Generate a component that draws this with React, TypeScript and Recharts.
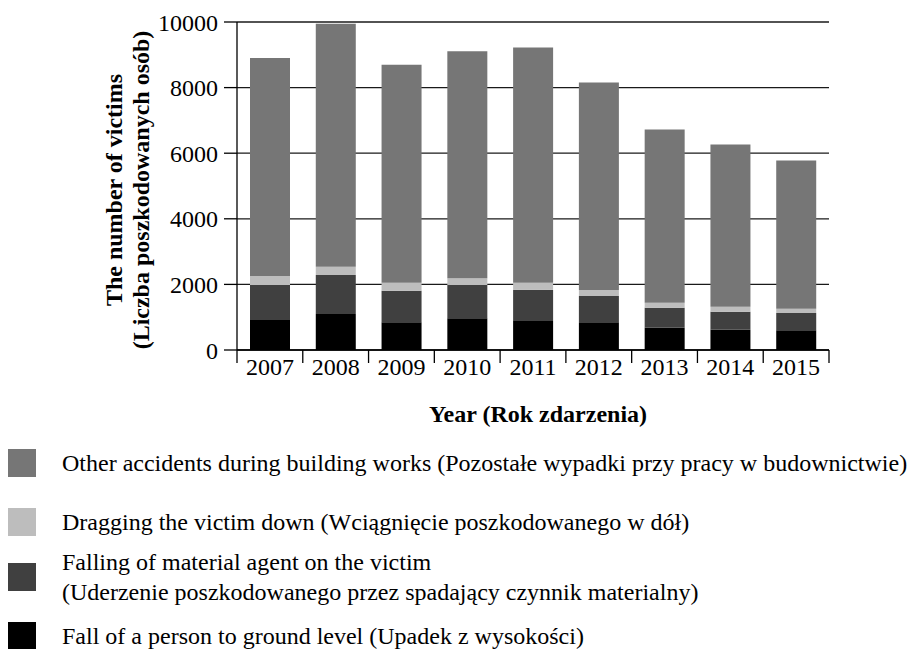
import React from 'react';
import { BarChart, Bar, XAxis, YAxis, CartesianGrid, Label } from 'recharts';

const years = ['2007', '2008', '2009', '2010', '2011', '2012', '2013', '2014', '2015'];
const fallValues = [915, 1100, 843, 965, 905, 843, 680, 620, 600];
const materialValues = [1065, 1190, 967, 1015, 935, 803, 610, 548, 528];
const draggingValues = [275, 250, 243, 205, 210, 184, 153, 153, 132];
const otherValues = [6644, 7410, 6642, 6925, 7175, 6325, 5282, 4944, 4515];
const yTicks = [0, 2000, 4000, 6000, 8000, 10000];

const series = [
  { key: 'other', color: '#767676', lines: ['Other accidents during building works (Pozostałe wypadki przy pracy w budownictwie)'] },
  { key: 'dragging', color: '#bdbdbd', lines: ['Dragging the victim down (Wciągnięcie poszkodowanego w dół)'] },
  { key: 'material', color: '#404040', lines: ['Falling of material agent on the victim', '(Uderzenie poszkodowanego przez spadający czynnik materialny)'] },
  { key: 'fall', color: '#000000', lines: ['Fall of a person to ground level (Upadek z wysokości)'] },
];

const data = years.map((y, i) => ({
  year: y,
  fall: fallValues[i],
  material: materialValues[i],
  dragging: draggingValues[i],
  other: otherValues[i],
}));

const FONT = '"Liberation Serif", "Times New Roman", serif';
const FS = 24;
const CHART_W = 915;
const CHART_H = 649;
const MARGIN = { top: 22, right: 86, left: 0, bottom: 269 };
const YAXIS_W = 237;
const XAXIS_H = 30;
const PLOT_LEFT = MARGIN.left + YAXIS_W;
const PLOT_W = CHART_W - MARGIN.right - PLOT_LEFT;
const PLOT_BOTTOM = CHART_H - MARGIN.bottom - XAXIS_H;
const BAND = PLOT_W / years.length;

const XTick = (props: any) => {
  const { x, payload, index } = props;
  const last = index === years.length - 1;
  return (
    <g>
      <line x1={x - BAND / 2} x2={x - BAND / 2} y1={PLOT_BOTTOM} y2={PLOT_BOTTOM + 13} stroke="#000" strokeWidth={1.3} />
      {last && (
        <line x1={x + BAND / 2} x2={x + BAND / 2} y1={PLOT_BOTTOM} y2={PLOT_BOTTOM + 13} stroke="#000" strokeWidth={1.3} />
      )}
      <text x={x} y={PLOT_BOTTOM + 17} textAnchor="middle" dominantBaseline="central" fontFamily={FONT} fontSize={FS} fill="#000">
        {payload.value}
      </text>
    </g>
  );
};

const YLabel = (props: any) => {
  const vb = props.viewBox || { x: 0, y: MARGIN.top, width: YAXIS_W, height: PLOT_BOTTOM - MARGIN.top };
  const cy = vb.y + vb.height / 2 + 4;
  const x1 = 114;
  const x2 = 141;
  return (
    <g>
      <text x={x1} y={cy} transform={`rotate(-90 ${x1} ${cy})`} textAnchor="middle" dominantBaseline="central" fontFamily={FONT} fontWeight="bold" fontSize={FS} fill="#000">
        The number of victims
      </text>
      <text x={x2} y={cy} transform={`rotate(-90 ${x2} ${cy})`} textAnchor="middle" dominantBaseline="central" fontFamily={FONT} fontWeight="bold" fontSize={FS} fill="#000">
        (Liczba poszkodowanych osób)
      </text>
    </g>
  );
};

const XLabel = (props: any) => {
  const vb = props.viewBox || { x: PLOT_LEFT, y: PLOT_BOTTOM, width: PLOT_W, height: XAXIS_H };
  const cx = vb.x + vb.width / 2 + 5;
  return (
    <text x={cx} y={PLOT_BOTTOM + 64} textAnchor="middle" dominantBaseline="central" fontFamily={FONT} fontWeight="bold" fontSize={FS} fill="#000">
      Year (Rok zdarzenia)
    </text>
  );
};

const legendTops = [448, 507, 547, 621];

export default function App() {
  return (
    <div style={{ position: 'absolute', left: 0, top: 0, width: CHART_W, height: CHART_H, background: '#fff', fontFamily: FONT, overflow: 'hidden' }}>
      <BarChart width={CHART_W} height={CHART_H} data={data} margin={MARGIN} barSize={40}>
        <CartesianGrid horizontal vertical={false} stroke="#1a1a1a" strokeWidth={1.3} strokeOpacity={1} />
        <XAxis
          dataKey="year"
          height={XAXIS_H}
          axisLine={{ stroke: '#000', strokeWidth: 1.3 }}
          tickLine={false}
          tick={<XTick />}
          interval={0}
        >
          <Label content={<XLabel />} />
        </XAxis>
        <YAxis
          width={YAXIS_W}
          domain={[0, 10000]}
          ticks={yTicks}
          interval={0}
          axisLine={{ stroke: '#000', strokeWidth: 1.3 }}
          tickLine={{ stroke: '#000', strokeWidth: 1.3 }}
          tickSize={13}
          tickMargin={6}
          tick={{ fontFamily: FONT, fontSize: FS, fill: '#000' }}
        >
          <Label content={<YLabel />} />
        </YAxis>
        <Bar dataKey="fall" stackId="a" fill="#000000" isAnimationActive={false} />
        <Bar dataKey="material" stackId="a" fill="#404040" isAnimationActive={false} />
        <Bar dataKey="dragging" stackId="a" fill="#bdbdbd" isAnimationActive={false} />
        <Bar dataKey="other" stackId="a" fill="#767676" isAnimationActive={false} />
      </BarChart>
      {series.map((s, i) => {
        const top = legendTops[i];
        const h = s.lines.length * 30;
        const center = top + h / 2;
        return (
          <React.Fragment key={s.key}>
            <div style={{ position: 'absolute', left: 8, top: center - 14, width: 28, height: 28, background: s.color }} />
            <div style={{ position: 'absolute', left: 62, top, fontSize: FS, lineHeight: '30px', color: '#000', whiteSpace: 'nowrap', fontFamily: FONT }}>
              {s.lines.map((l, j) => (
                <div key={j}>{l}</div>
              ))}
            </div>
          </React.Fragment>
        );
      })}
    </div>
  );
}
